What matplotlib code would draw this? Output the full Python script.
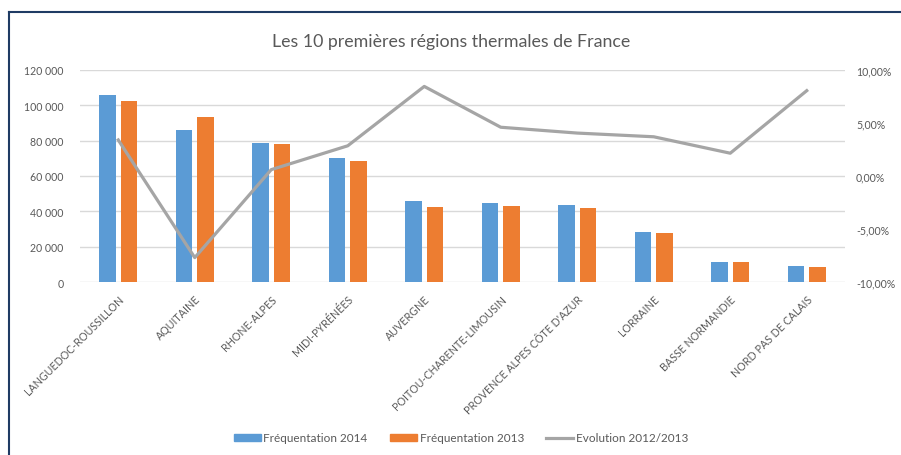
import matplotlib
matplotlib.use("Agg")
import matplotlib.pyplot as plt
from matplotlib.patches import Patch
from matplotlib.lines import Line2D

plt.rcParams['font.family'] = ['Lato', 'DejaVu Sans']

regions = ["LANGUEDOC-ROUSSILLON", "AQUITAINE", "RHONE-ALPES", "MIDI-PYRÉNÉES",
           "AUVERGNE", "POITOU-CHARENTE-LIMOUSIN", "PROVENCE ALPES CÔTE D'AZUR",
           "LORRAINE", "BASSE NORMANDIE", "NORD PAS DE CALAIS"]
freq_2014 = [106000, 86000, 78700, 70200, 45800, 44900, 43600, 28500, 11500, 9000]
freq_2013 = [102600, 93200, 78300, 68300, 42400, 43000, 41900, 27500, 11300, 8300]
evolution = [3.4, -7.7, 0.6, 2.85, 8.45, 4.6, 4.05, 3.7, 2.15, 8.05]

left_ticks = [0, 20000, 40000, 60000, 80000, 100000, 120000]
left_labels = ["0", "20 000", "40 000", "60 000", "80 000", "100 000", "120 000"]
right_ticks = [-10, -5, 0, 5, 10]
right_labels = ["-10,00%", "-5,00%", "0,00%", "5,00%", "10,00%"]

BLUE = "#5B9BD5"
ORANGE = "#ED7D31"
GRAY = "#A5A5A5"
TXT = "#595959"

W, H = 901, 456
fig = plt.figure(figsize=(W / 100, H / 100), dpi=100)

# frame lines
fig.add_artist(Line2D([9 / W, 9 / W], [0, 1 - 12.5 / H], transform=fig.transFigure,
                      color="#1F3B64", lw=1.5))
fig.add_artist(Line2D([9 / W, 1], [1 - 12.5 / H, 1 - 12.5 / H], transform=fig.transFigure,
                      color="#1F3B64", lw=1.5))

ax = fig.add_axes([80 / W, (H - 283) / H, (845 - 80) / W, (283 - 71) / H])
x = list(range(len(regions)))
bw = 0.22
off = 0.141
ax.bar([i - off for i in x], freq_2014, width=bw, color=BLUE, zorder=3)
ax.bar([i + off for i in x], freq_2013, width=bw, color=ORANGE, zorder=3)
ax.set_xlim(-0.5, len(regions) - 0.5)
ax.set_ylim(0, 120000)
ax.set_yticks(left_ticks)
ax.set_yticklabels(left_labels)
ax.yaxis.grid(True, color="#D9D9D9", lw=1, zorder=0)
ax.set_axisbelow(True)
for s in ax.spines.values():
    s.set_visible(False)
ax.tick_params(axis='y', length=0, labelsize=7.6, labelcolor=TXT, pad=12)
ax.set_xticks(x)
ax.set_xticklabels(regions, rotation=45, ha='right', va='top', rotation_mode='anchor')
ax.tick_params(axis='x', length=0, labelsize=7.7, labelcolor=TXT, pad=8)

ax2 = ax.twinx()
ax2.plot(x, evolution, color=GRAY, lw=2.3, zorder=4)
ax2.set_ylim(-10, 10)
ax2.set_yticks(right_ticks)
ax2.set_yticklabels(right_labels)
for s in ax2.spines.values():
    s.set_visible(False)
ax2.tick_params(axis='y', length=0, labelsize=7.6, labelcolor=TXT, pad=8)

fig.text(451 / W, 1 - 42 / H, "Les 10 premières régions thermales de France",
         ha='center', va='center', fontsize=12.8, color=TXT)

handles = [Patch(color=BLUE), Patch(color=ORANGE), Line2D([], [], color=GRAY, lw=2.3)]
labels = ["Fréquentation 2014", "Fréquentation 2013", "Evolution 2012/2013"]
fig.legend(handles, labels, loc='center', bbox_to_anchor=(461 / W, 1 - 439 / H), ncol=3,
           frameon=False, fontsize=8.5, labelcolor=TXT, handlelength=2.3,
           handleheight=0.55, handletextpad=0.2, columnspacing=1.9)

fig.savefig("out.png", dpi=100)
